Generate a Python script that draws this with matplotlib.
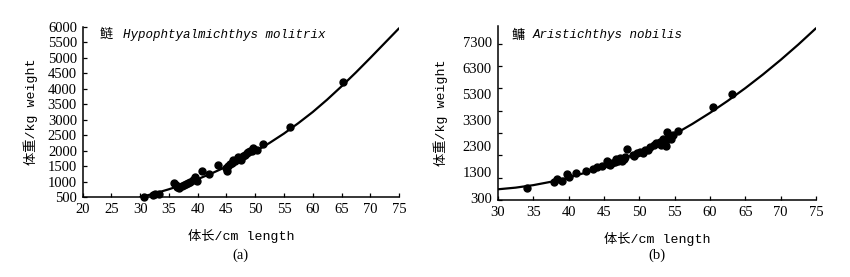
import numpy as np
import matplotlib
matplotlib.use("Agg")
import matplotlib.pyplot as plt

# ---------------- data ----------------
# Panel (a): silver carp
a_len = [30.7, 32.2, 32.6, 33.2, 35.95, 36.4, 36.8, 37.2, 38.0, 38.7, 39.25, 39.55,
         39.95, 40.7, 42.0, 43.5, 45.05, 45.3, 45.9, 46.5, 47.07, 47.5, 47.9, 48.5,
         49.1, 49.7, 50.3, 51.4, 56.05, 65.3, 36.2, 37.6, 38.4, 46.2, 47.2, 48.2,
         48.8, 49.4, 45.6, 44.9]
a_wt = [510, 555, 600, 600, 948, 837, 785, 860, 925, 990, 1057, 1145,
        1024, 1328, 1253, 1548, 1328, 1515, 1603, 1656, 1800, 1688, 1820, 1908,
        1983, 2094, 2016, 2203, 2749, 4230, 880, 900, 960, 1700, 1750, 1850,
        1950, 2000, 1560, 1450]
a_fit_len = [30, 32.5, 35, 37.5, 40, 42.5, 45, 47.5, 50, 52.5, 55, 57.5, 60,
             62.5, 65, 67.5, 70, 72.5, 75]
a_fit_wt = [494, 613, 750, 904, 1077, 1270, 1482, 1716, 1972, 2250, 2553, 2890,
            3250, 3650, 4080, 4530, 5000, 5480, 5960]

# Panel (b): bighead carp
b_len = [34.06, 37.9, 38.4, 39.1, 39.8, 40.1, 41.1, 42.4, 44.0, 44.7, 45.4, 45.6,
         46.1, 46.7, 47.3, 47.6, 48.0, 48.2, 49.05, 49.6, 50.1, 50.8, 51.5, 52.1,
         52.4, 52.9, 53.4, 53.6, 53.9, 54.2, 54.8, 55.5, 60.45, 63.05, 43.5, 46.5,
         47.8, 49.3, 50.5, 51.2, 53.0, 53.8, 54.5, 47.0, 45.8]
b_wt = [825, 1120, 1230, 1170, 1466, 1318, 1497, 1600, 1766, 1825, 2062, 1914,
        1973, 2125, 2170, 2062, 2242, 2573, 2318, 2394, 2466, 2542, 2690, 2766,
        2843, 2918, 3022, 2870, 3363, 3139, 3215, 3408, 4457, 5053, 1700, 2000,
        2150, 2250, 2400, 2550, 2780, 2700, 3050, 2050, 1850]
b_fit_len = [30, 32.5, 35, 37.5, 40, 42.5, 45, 47.5, 50, 52.5, 55, 57.5, 60,
             62.5, 65, 67.5, 70, 72.5, 75]
b_fit_wt = [780, 854, 966, 1117, 1307, 1535, 1800, 2106, 2450, 2831, 3251, 3710,
            4207, 4743, 5316, 5929, 6581, 7271, 8000]

a_xticks = [20, 25, 30, 35, 40, 45, 50, 55, 60, 65, 70, 75]
a_yticks = [500, 1000, 1500, 2000, 2500, 3000, 3500, 4000, 4500, 5000, 5500, 6000]
b_xticks = [30, 35, 40, 45, 50, 55, 60, 65, 70, 75]
b_yticks = [300, 1300, 2300, 3300, 4300, 5300, 6300, 7300]
b_ylabels = ["300", "1300", "2300", "3300", "5300", "6300", "7300"]

a_title = ["鲢", "Hypophtyalmichthys molitrix"]
b_title = ["鳙", "Aristichthys nobilis"]

# ---------------- style ----------------
CJK = "Noto Sans CJK SC"
MONO = ["Liberation Mono", CJK]
SERIF = "Liberation Serif"
TICK_FS = 10.5

fig = plt.figure(figsize=(8.5, 2.77), dpi=100)
axa = fig.add_axes([0.0971, 0.2888, 0.3724, 0.6137])
axb = fig.add_axes([0.5859, 0.2780, 0.3741, 0.6281])


def style(ax):
    for s in ["top", "right"]:
        ax.spines[s].set_visible(False)
    for s in ["left", "bottom"]:
        ax.spines[s].set_linewidth(1.1)
    ax.tick_params(direction="in", length=3, width=0.9, labelsize=TICK_FS, pad=4)
    for lab in ax.get_xticklabels() + ax.get_yticklabels():
        lab.set_fontfamily(SERIF)


# panel a
axa.plot(a_fit_len, a_fit_wt, color="black", lw=1.6, solid_capstyle="round", zorder=2)
axa.plot(a_len, a_wt, "o", color="black", ms=5, zorder=3, clip_on=False)
axa.set_xlim(20, 75)
axa.set_ylim(500, 6000)
axa.set_xticks(a_xticks)
axa.set_yticks(a_yticks)
style(axa)
axa.text(0.055, 0.955, a_title[0], transform=axa.transAxes, fontsize=9.5,
         family=CJK, va="center", ha="left")
axa.text(0.128, 0.955, a_title[1], transform=axa.transAxes, fontsize=9,
         family="Liberation Mono", style="italic", va="center", ha="left")
axa.set_xlabel("体长/cm length", family=MONO, fontsize=9.5, labelpad=10)
axa.set_ylabel("体重/kg weight", family=MONO, fontsize=9.5, labelpad=7)
axa.text(0.5, -0.34, "(a)", transform=axa.transAxes, ha="center", va="center",
         family=SERIF, fontsize=10.5)

# panel b
axb.plot(b_fit_len, b_fit_wt, color="black", lw=1.6, solid_capstyle="round", zorder=2)
axb.plot(b_len, b_wt, "o", color="black", ms=5, zorder=3, clip_on=False)
axb.set_xlim(30, 75)
axb.set_ylim(300, 8100)
axb.set_xticks(b_xticks)
axb.set_yticks(b_yticks)
axb.set_yticklabels([""] * len(b_yticks))
style(axb)
label_pos = np.linspace(b_yticks[0], b_yticks[-1], len(b_ylabels))
for yv, lab in zip(label_pos, b_ylabels):
    axb.text(-0.02, yv, lab, transform=axb.get_yaxis_transform(), ha="right",
             va="center", family=SERIF, fontsize=TICK_FS)
axb.text(0.041, 0.948, b_title[0], transform=axb.transAxes, fontsize=9.5,
         family=CJK, va="center", ha="left")
axb.text(0.11, 0.948, b_title[1], transform=axb.transAxes, fontsize=9,
         family="Liberation Mono", style="italic", va="center", ha="left")
axb.set_xlabel("体长/cm length", family=MONO, fontsize=9.5, labelpad=10)
axb.set_ylabel("体重/kg weight", family=MONO, fontsize=9.5, labelpad=32)
axb.text(0.5, -0.316, "(b)", transform=axb.transAxes, ha="center", va="center",
         family=SERIF, fontsize=10.5)

fig.savefig("out.png", dpi=100)
